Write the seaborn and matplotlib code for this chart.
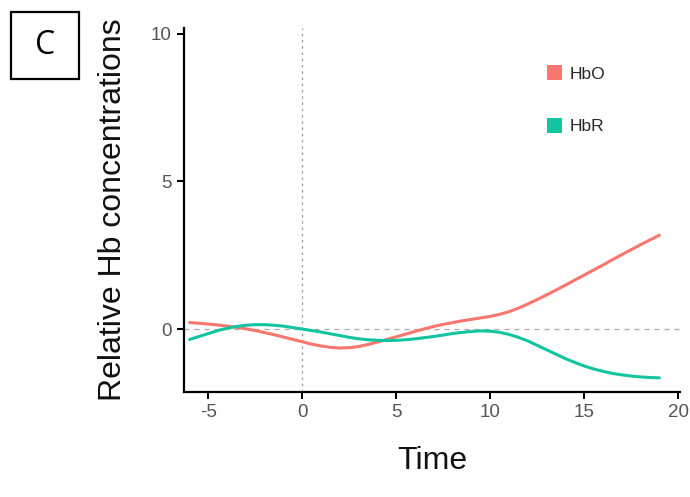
import matplotlib
matplotlib.use("Agg")
import matplotlib.pyplot as plt
import seaborn as sns
import pandas as pd
from matplotlib.patches import Patch, Rectangle

# ---- data ----
time = [-6, -5.5, -5, -4.5, -4, -3.5, -3, -2.5, -2, -1.5, -1, -0.5, 0,
        0.5, 1, 1.5, 2, 2.5, 3, 3.5, 4, 4.5, 5, 5.5, 6, 6.5, 7, 7.5, 8,
        8.5, 9, 9.5, 10, 10.5, 11, 11.5, 12, 12.5, 13, 13.5, 14, 14.5, 15,
        15.5, 16, 16.5, 17, 17.5, 18, 18.5, 19]
hbo = [0.22, 0.20, 0.17, 0.14, 0.10, 0.06, 0.01, -0.05, -0.12, -0.19,
       -0.27, -0.35, -0.43, -0.51, -0.57, -0.62, -0.64, -0.63, -0.59,
       -0.52, -0.44, -0.35, -0.26, -0.17, -0.08, 0.01, 0.09, 0.16, 0.22,
       0.28, 0.33, 0.38, 0.43, 0.50, 0.59, 0.71, 0.85, 1.00, 1.16, 1.32,
       1.49, 1.66, 1.83, 2.00, 2.17, 2.35, 2.52, 2.69, 2.86, 3.02, 3.18]
hbr = [-0.35, -0.25, -0.15, -0.05, 0.03, 0.09, 0.13, 0.15, 0.15, 0.13,
       0.10, 0.05, 0.0, -0.05, -0.10, -0.16, -0.22, -0.28, -0.33, -0.36,
       -0.38, -0.39, -0.38, -0.36, -0.33, -0.29, -0.25, -0.20, -0.15,
       -0.11, -0.08, -0.06, -0.07, -0.11, -0.18, -0.28, -0.40, -0.55,
       -0.70, -0.85, -1.00, -1.13, -1.25, -1.35, -1.43, -1.50, -1.55,
       -1.59, -1.62, -1.64, -1.65]
series = ["HbO", "HbR"]
colors = ["#F8766D", "#12C4A0"]
xticks = [-5, 0, 5, 10, 15, 20]
yticks = [0, 5, 10]

df = pd.DataFrame({
    "Time": time * 2,
    "value": hbo + hbr,
    "series": ["HbO"] * len(time) + ["HbR"] * len(time),
})

sns.set_style("white")
plt.rcParams["font.family"] = ["Liberation Sans", "DejaVu Sans"]
plt.rcParams["axes.unicode_minus"] = False

fig = plt.figure(figsize=(6.9, 4.97), dpi=100)
ax = fig.add_axes([0.2667, 0.2113, 0.7188, 0.7324])

ax.axhline(0, color="#aaaaaa", lw=0.9, ls=(0, (4, 4)), zorder=1)
ax.axvline(0, color="#999999", lw=0.9, ls=(0, (2, 3)), zorder=1)

sns.lineplot(data=df, x="Time", y="value", hue="series",
             palette=dict(zip(series, colors)), lw=2.2, ax=ax,
             legend=False, zorder=3)

ax.set_xlim(-6.3, 20.1)
ax.set_ylim(-2.13, 10.2)
ax.set_xticks(xticks)
ax.set_yticks(yticks)
ax.tick_params(axis="both", which="major", direction="out", length=5,
               width=1.5, color="black", labelsize=13.5, labelcolor="#555555",
               left=True, bottom=True, pad=4)
for s in ["top", "right"]:
    ax.spines[s].set_visible(False)
for s in ["left", "bottom"]:
    ax.spines[s].set_color("black")
    ax.spines[s].set_linewidth(1.6)

ax.set_xlabel("Time", fontsize=23, color="#111111", labelpad=18)
ax.set_ylabel("Relative Hb concentrations", fontsize=23, color="#111111",
              labelpad=16)

handles = [Patch(facecolor=c, edgecolor="none", label=s)
           for s, c in zip(series, colors)]
leg = ax.legend(handles=handles, loc="upper left",
                bbox_to_anchor=(0.70, 0.94), frameon=False, fontsize=12.5,
                handlelength=0.9, handleheight=0.9, handletextpad=0.4,
                labelspacing=2.1)

# panel label box
fig.patches.append(Rectangle((11 / 690, 1 - 79 / 497), 68 / 690, 67 / 497,
                             transform=fig.transFigure, fill=False,
                             edgecolor="black", lw=1.6))
fig.text(45 / 690, 1 - 46 / 497, "C", ha="center", va="center",
         fontsize=23, family=["Open Sans", "DejaVu Sans"], color="black")

fig.savefig("out.png", dpi=100)
